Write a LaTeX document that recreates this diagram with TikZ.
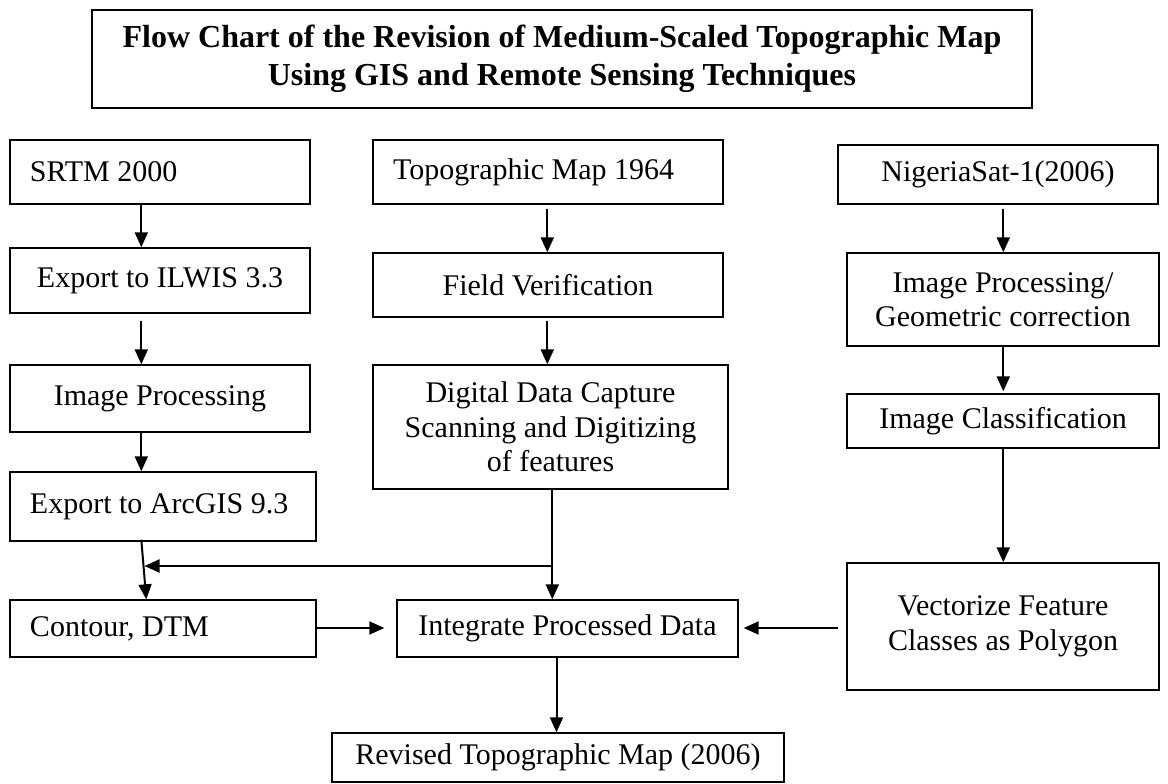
\documentclass[tikz,border=0pt]{standalone}
\usepackage{fontspec}
\setmainfont{Liberation Serif}
\usetikzlibrary{arrows.meta,calc}

\tikzset{
  box/.style={draw=black, line width=1.4pt, rectangle, inner sep=0pt,
    font=\fontsize{30}{34.5}\selectfont, align=center},
  lbox/.style={box, align=flush left, inner xsep=20pt},
  titlebox/.style={box, font=\fontsize{32}{38}\selectfont\bfseries},
  arr/.style={line width=2pt, -{Triangle[length=15pt,width=13pt]}}
}

% place a box by its corners: (x1,y1) top-left, (x2,y2) bottom-right
\newcommand\boxat[6]{%
  \node[#1, minimum width={#4-#2}, minimum height={#5-#3}] (#6)
    at ({(#2+#4)/2},{(#3+#5)/2}) }

\begin{document}
\begin{tikzpicture}[x=1pt, y=-1pt]
\useasboundingbox (0,0) rectangle (1168,784);

% title
\boxat{titlebox}{92}{10}{1032}{108}{title}
  {Flow Chart of the Revision of Medium-Scaled Topographic Map\\
   Using GIS and Remote Sensing Techniques};

% left column
\boxat{lbox, text width=260pt}{10}{140}{310}{204}{srtm}{SRTM 2000};
\boxat{box}{10}{248}{310}{313}{ilwis}{Export to ILWIS 3.3};
\boxat{box}{10}{365}{310}{432}{improc}{Image Processing};
\boxat{lbox, text width=266pt}{10}{472}{316}{541}{arcgis}{Export to ArcGIS 9.3};
\boxat{lbox, text width=266pt}{10}{600}{316}{657}{contour}{Contour, DTM};

% middle column
\boxat{lbox, text width=310pt}{373}{140}{723}{204}{topo}{Topographic Map 1964};
\boxat{box}{373}{253}{723}{317}{field}{Field Verification};
\boxat{box}{373}{365}{728}{489}{digital}{Digital Data Capture\\Scanning and Digitizing\\of features};
\boxat{box}{397}{600}{738}{657}{integ}{Integrate Processed Data};
\boxat{box}{332}{733}{784}{782}{revised}{Revised Topographic Map (2006)};

% right column
\boxat{box}{838}{145}{1158}{204}{nsat}{NigeriaSat-1(2006)};
\boxat{box}{847}{253}{1159}{346}{geo}{Image Processing/\\Geometric correction};
\boxat{box}{847}{394}{1159}{448}{classif}{Image Classification};
\boxat{box}{847}{563}{1159}{690}{vector}{Vectorize Feature\\Classes as Polygon};

% left column flow
\draw[arr] ([xshift=132pt]srtm.south west) -- ([xshift=132pt]ilwis.north west);
\draw[arr] ([xshift=132pt,yshift=-7pt]ilwis.south west) -- ([xshift=132pt]improc.north west);
\draw[arr] ([xshift=132pt]improc.south west) -- ([xshift=132pt]arcgis.north west);
\draw[arr] ([xshift=132pt,yshift=2pt]arcgis.south west) -- ([xshift=137pt]contour.north west);

% middle column flow
\draw[arr] ([xshift=175pt,yshift=-4pt]topo.south west) -- ([xshift=175pt]field.north west);
\draw[arr] ([xshift=175pt,yshift=-3pt]field.south west) -- ([xshift=175pt]digital.north west);
\coordinate (dx) at ([xshift=180pt]digital.south west);
\coordinate (join) at (dx |- 0,566);
\coordinate (hit) at (144.5,566);
\draw[arr] (dx) -- (dx |- integ.north);
\draw[arr] (join) -- (hit);

% right column flow
\draw[arr] ([xshift=166pt,yshift=-4pt]nsat.south west) -- ([xshift=157pt]geo.north west);
\draw[arr] ([xshift=157pt]geo.south west) -- ([xshift=157pt,yshift=2pt]classif.north west);
\draw[arr] ([xshift=157pt]classif.south west) -- ([xshift=157pt]vector.north west);

% into the integration box and out
\draw[arr] (contour.east |- 0,628) -- ([xshift=-12pt]integ.west |- 0,628);
\draw[arr] ([xshift=-8pt]vector.west |- 0,628) -- ([xshift=5pt]integ.east |- 0,628);
\draw[arr] ([xshift=-11pt]integ.south) -- ([xshift=-11pt]integ.south |- revised.north);
\end{tikzpicture}
\end{document}
